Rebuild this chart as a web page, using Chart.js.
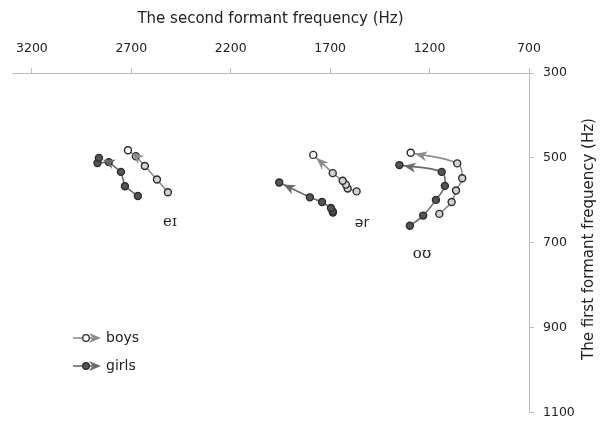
<!DOCTYPE html>
<html>
<head>
<meta charset="utf-8">
<style>
html,body{margin:0;padding:0;background:#fff;}
#wrap{width:603px;height:429px;position:relative;}
</style>
<script src="https://cdn.jsdelivr.net/npm/chart.js@4.4.1/dist/chart.umd.min.js"></script>
</head>
<body>
<div id="wrap"><canvas id="c" width="603" height="429"></canvas></div>
<script>
// ---- data (F2 = x, F1 = y), ordered onset -> offset ----
const xTicks = [3200, 2700, 2200, 1700, 1200, 700];
const yTicks = [300, 500, 700, 900, 1100];

const eiBoysF2  = [2516, 2571, 2632, 2677, 2717];
const eiBoysF1  = [581, 551, 519, 496, 482];
const eiGirlsF2 = [2667, 2732, 2752, 2813, 2870, 2863];
const eiGirlsF1 = [590, 567, 533, 510, 512, 500];

const erBoysF2  = [1567, 1612, 1621, 1637, 1687, 1785];
const erBoysF1  = [579, 572, 563, 554, 536, 493];
const erGirlsF2 = [1686, 1687, 1696, 1741, 1802, 1956];
const erGirlsF1 = [629, 626, 618, 604, 593, 558];

const ouBoysF2  = [1151, 1089, 1067, 1036, 1061, 1295];
const ouBoysF1  = [632, 604, 577, 548, 513, 488];
const ouGirlsF2 = [1299, 1232, 1168, 1123, 1139, 1352];
const ouGirlsF1 = [660, 636, 599, 566, 533, 517];

const vowelLabels = ['eɪ', 'ər', 'oʊ'];
const vowelLabelF2 = [2506, 1540, 1238];
const vowelLabelF1 = [652, 655, 726];

const groupNames = ['boys', 'girls'];

// ---- styling ----
const SANS = '"DejaVu Sans", Verdana, sans-serif';
const BOY_LINE = '#8c8c8c', GIRL_LINE = '#6a6a6a';
const BOY_FILL = '#d2d2d2', GIRL_FILL = '#555555', EDGE = '#2a2a2a';
const AXIS = '#bdbdbd';

function pts(xs, ys){ return xs.map((x,i)=>({x:x, y:ys[i]})); }

function ds(xs, ys, isBoy, tension){
  const n = xs.length;
  const fills = xs.map((_, i) => (isBoy && i === n-1) ? '#ffffff' : (isBoy ? BOY_FILL : GIRL_FILL));
  return {
    data: pts(xs, ys),
    showLine: true,
    borderColor: isBoy ? BOY_LINE : GIRL_LINE,
    borderWidth: 1.6,
    tension: tension,
    pointRadius: 3.5,
    pointBorderWidth: 1.4,
    pointBorderColor: EDGE,
    pointBackgroundColor: fills,
    arrowColor: isBoy ? BOY_LINE : GIRL_LINE
  };
}

function drawArrow(ctx, tx, ty, dx, dy, color){
  const L = 12, W = 5;
  const px = -dy, py = dx;
  const bx = tx - dx*L, by = ty - dy*L;
  ctx.save();
  ctx.fillStyle = color;
  ctx.beginPath();
  ctx.moveTo(tx, ty);
  ctx.lineTo(bx + px*W, by + py*W);
  ctx.lineTo(bx + dx*3.5, by + dy*3.5);
  ctx.lineTo(bx - px*W, by - py*W);
  ctx.closePath();
  ctx.fill();
  ctx.restore();
}

const arrowPlugin = {
  id: 'arrows',
  afterDatasetsDraw(chart){
    const ctx = chart.ctx;
    chart.data.datasets.forEach((d, i) => {
      const meta = chart.getDatasetMeta(i);
      const el = meta.data;
      const n = el.length;
      const last = el[n-1];
      let k = n-2, dx = 0, dy = 0, dist = 0;
      while (k >= 0) {
        dx = last.x - el[k].x; dy = last.y - el[k].y;
        dist = Math.hypot(dx, dy);
        if (dist > 8) break;
        k--;
      }
      dx /= dist; dy /= dist;
      const off = 4.5;
      drawArrow(ctx, last.x - dx*off, last.y - dy*off, dx, dy, d.arrowColor);
    });
    const xs = chart.scales.x, ys = chart.scales.y;
    ctx.save();
    ctx.fillStyle = '#222';
    ctx.textAlign = 'center';
    ctx.textBaseline = 'middle';
    vowelLabels.forEach((t, i) => {
      ctx.font = (t === 'ər' ? '14px ' + SANS : '15px "DejaVu Serif", serif');
      ctx.fillText(t, xs.getPixelForValue(vowelLabelF2[i]), ys.getPixelForValue(vowelLabelF1[i]));
    });
    ctx.restore();
  },
  afterDraw(chart){
    const ctx = chart.ctx;
    ctx.save();
    ctx.fillStyle = '#222';
    ctx.font = '15px ' + SANS;
    ctx.textAlign = 'center';
    ctx.textBaseline = 'middle';
    ctx.translate(589, 239);
    ctx.rotate(-Math.PI/2);
    ctx.fillText('The first formant frequency (Hz)', 0, 0);
    ctx.restore();
    const rows = [{y:338, fill:'#ffffff', line:BOY_LINE}, {y:366, fill:GIRL_FILL, line:GIRL_LINE}];
    rows.forEach((r, i) => {
      ctx.save();
      ctx.strokeStyle = r.line; ctx.lineWidth = 1.6;
      ctx.beginPath(); ctx.moveTo(73, r.y); ctx.lineTo(92, r.y); ctx.stroke();
      drawArrow(ctx, 101, r.y, 1, 0, r.line);
      ctx.beginPath(); ctx.arc(86, r.y, 3.3, 0, Math.PI*2);
      ctx.fillStyle = r.fill; ctx.fill();
      ctx.lineWidth = 1.3; ctx.strokeStyle = EDGE; ctx.stroke();
      ctx.fillStyle = '#222';
      ctx.font = '14px ' + SANS;
      ctx.textAlign = 'left'; ctx.textBaseline = 'middle';
      ctx.fillText(groupNames[i], 106, r.y);
      ctx.restore();
    });
  }
};

new Chart(document.getElementById('c'), {
  type: 'scatter',
  data: {
    datasets: [
      ds(eiBoysF2, eiBoysF1, true, 0),
      ds(eiGirlsF2, eiGirlsF1, false, 0),
      ds(erBoysF2, erBoysF1, true, 0),
      ds(erGirlsF2, erGirlsF1, false, 0),
      ds(ouBoysF2, ouBoysF1, true, 0.4),
      ds(ouGirlsF2, ouGirlsF1, false, 0.3)
    ]
  },
  options: {
    responsive: false,
    animation: false,
    layout: { padding: { left: 12, right: 0, top: 0, bottom: 8 } },
    plugins: { legend: { display: false }, tooltip: { enabled: false } },
    scales: {
      x: {
        type: 'linear', position: 'top', reverse: true, min: 700, max: 3300,
        afterBuildTicks: s => { s.ticks = xTicks.map(v => ({value: v})); },
        afterFit: s => { s.height = 73; },
        ticks: { font: { family: SANS, size: 12.5 }, color: '#222', padding: 12, maxRotation: 0, autoSkip: false,
                 callback: v => String(v) },
        grid: { drawOnChartArea: false, drawTicks: true, tickLength: 5, color: AXIS },
        border: { color: AXIS, width: 1 },
        title: { display: true, text: 'The second formant frequency (Hz)', color: '#222',
                 font: { family: SANS, size: 15 }, padding: { top: 10, bottom: 0 } }
      },
      y: {
        type: 'linear', position: 'right', reverse: true, min: 300, max: 1100,
        afterBuildTicks: s => { s.ticks = yTicks.map(v => ({value: v})); },
        afterFit: s => { s.width = 74; },
        ticks: { font: { family: SANS, size: 12.5 }, color: '#222', padding: 9, autoSkip: false,
                 callback: v => String(v) },
        grid: { drawOnChartArea: false, drawTicks: true, tickLength: 5, color: AXIS },
        border: { color: AXIS, width: 1 }
      }
    }
  },
  plugins: [arrowPlugin]
});
</script>
</body>
</html>
